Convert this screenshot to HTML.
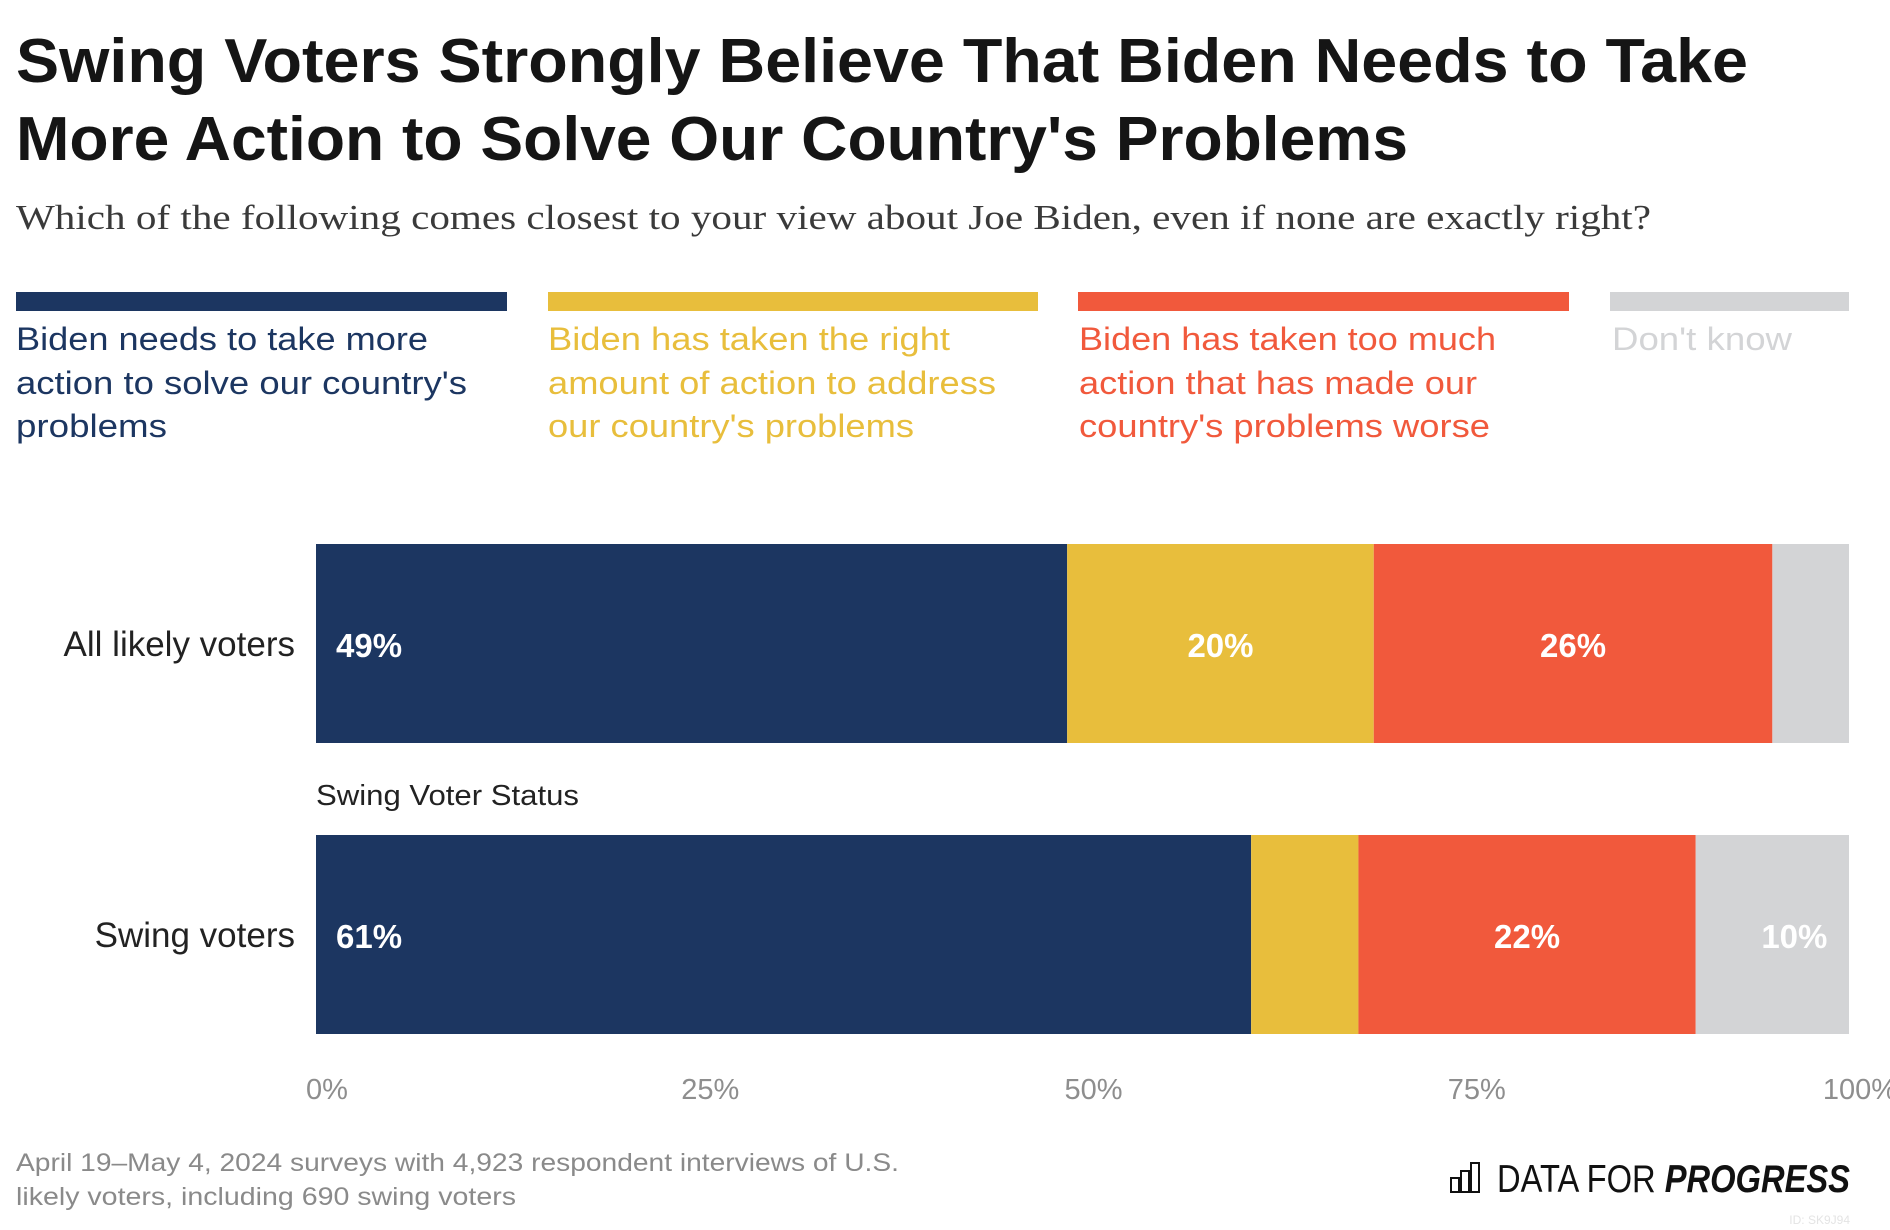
<!DOCTYPE html>
<html><head><meta charset="utf-8"><style>
html,body{margin:0;padding:0;background:#fff;}
svg{display:block;font-family:"Liberation Sans",sans-serif;}
</style></head><body>
<svg id="chart" width="1890" height="1230" viewBox="0 0 1890 1230" xmlns="http://www.w3.org/2000/svg">
<rect width="1890" height="1230" fill="#fff"/>
<g fill="#151515" font-weight="bold" font-size="62">
<text x="16" y="82" textLength="1732" lengthAdjust="spacingAndGlyphs">Swing Voters Strongly Believe That Biden Needs to Take</text>
<text x="16" y="160" textLength="1392" lengthAdjust="spacingAndGlyphs">More Action to Solve Our Country's Problems</text>
</g>
<text x="16" y="229" font-family="Liberation Serif, serif" font-size="35" fill="#3a3a3a" textLength="1635" lengthAdjust="spacingAndGlyphs">Which of the following comes closest to your view about Joe Biden, even if none are exactly right?</text>

<g font-size="32">
<g fill="#1c3661">
<rect x="16" y="292" width="491" height="19"/>
<text x="16" y="350" textLength="412" lengthAdjust="spacingAndGlyphs">Biden needs to take more</text>
<text x="16" y="394" textLength="451" lengthAdjust="spacingAndGlyphs">action to solve our country's</text>
<text x="16" y="437" textLength="151" lengthAdjust="spacingAndGlyphs">problems</text>
</g>
<g fill="#e8be3c">
<rect x="548" y="292" width="490" height="19"/>
<text x="548" y="350" textLength="402" lengthAdjust="spacingAndGlyphs">Biden has taken the right</text>
<text x="548" y="394" textLength="448" lengthAdjust="spacingAndGlyphs">amount of action to address</text>
<text x="548" y="437" textLength="366" lengthAdjust="spacingAndGlyphs">our country's problems</text>
</g>
<g fill="#f1593c">
<rect x="1078" y="292" width="491" height="19"/>
<text x="1079" y="350" textLength="417" lengthAdjust="spacingAndGlyphs">Biden has taken too much</text>
<text x="1079" y="394" textLength="398" lengthAdjust="spacingAndGlyphs">action that has made our</text>
<text x="1079" y="437" textLength="411" lengthAdjust="spacingAndGlyphs">country's problems worse</text>
</g>
<g fill="#d3d4d6">
<rect x="1610" y="292" width="239" height="19"/>
<text x="1612" y="350" textLength="180" lengthAdjust="spacingAndGlyphs">Don't know</text>
</g>
</g>

<text x="316" y="805" font-size="29" fill="#222" textLength="263" lengthAdjust="spacingAndGlyphs">Swing Voter Status</text>
<g id="bars"></g>
<g id="axis"></g>

<g fill="#8a8a8a" font-size="25">
<text x="16" y="1171" textLength="883" lengthAdjust="spacingAndGlyphs">April 19–May 4, 2024 surveys with 4,923 respondent interviews of U.S.</text>
<text x="16" y="1205" textLength="500" lengthAdjust="spacingAndGlyphs">likely voters, including 690 swing voters</text>
</g>
<g>
<g fill="none" stroke="#111" stroke-width="2">
<rect x="1451" y="1178" width="8" height="14"/><rect x="1461" y="1171" width="8" height="21"/><rect x="1471" y="1163" width="8" height="29"/>
</g>
<text x="1497" y="1192" font-size="39" fill="#111" textLength="353" lengthAdjust="spacingAndGlyphs"><tspan font-weight="normal">DATA FOR </tspan><tspan font-weight="bold" font-style="italic">PROGRESS</tspan></text>
</g>
<text x="1850" y="1224" text-anchor="end" font-size="12" fill="#e4e4e4">ID: SK9J94</text>
</svg>
<script>
const categories = ["All likely voters", "Swing voters"];
const seriesNames = ["Biden needs to take more action", "Right amount of action", "Too much action", "Don't know"];
const moreAction = [49, 61];
const rightAmount = [20, 7];
const tooMuch = [26, 22];
const dontKnow = [5, 10];
const tickValues = [0, 25, 50, 75, 100];
const tickLabels = ["0%", "25%", "50%", "75%", "100%"];

const NS = "http://www.w3.org/2000/svg";
const X0 = 316, X1 = 1849;
const x = v => X0 + (X1 - X0) * v / 100;
const rowTop = [544, 835], rowH = 199;
const colors = ["#1c3661", "#e8be3c", "#f1593c", "#d3d4d6"];
const series = [moreAction, rightAmount, tooMuch, dontKnow];
const keys = ["more-action", "right-amount", "too-much", "dont-know"];
const bars = document.getElementById("bars");
const axis = document.getElementById("axis");

function mk(tag, attrs, parent) {
  const e = document.createElementNS(NS, tag);
  for (const k in attrs) e.setAttribute(k, attrs[k]);
  parent.appendChild(e);
  return e;
}

categories.forEach((cat, i) => {
  const y = rowTop[i];
  const lab = mk("text", {x: 295, y: y + 112, "text-anchor": "end", "font-size": 35, fill: "#222"}, bars);
  
  
  lab.textContent = cat;
  let cum = 0;
  series.forEach((s, j) => {
    const v = s[i];
    const r = mk("rect", {x: x(cum), y: y, width: x(cum + v) - x(cum), height: rowH, fill: colors[j]}, bars);
    
    
    if (v >= 9) {
      const t = mk("text", {y: y + 113, "font-size": 33, "font-weight": "bold", fill: "#fff"}, bars);
      if (j === 0) { t.setAttribute("x", x(cum) + 20); }
      else if (j === 3) { t.setAttribute("x", (x(cum) + x(cum + v)) / 2 + 22); t.setAttribute("text-anchor", "middle"); }
      else { t.setAttribute("x", (x(cum) + x(cum + v)) / 2); t.setAttribute("text-anchor", "middle"); }
      
      
      t.textContent = v + "%";
    }
    cum += v;
  });
});

tickValues.forEach((v, i) => {
  const t = mk("text", {x: x(v) + 11, y: 1099, "text-anchor": "middle", "font-size": 29, fill: "#8e8e8e"}, axis);
  
  
  t.textContent = tickLabels[i];
});
</script>
</body></html>
